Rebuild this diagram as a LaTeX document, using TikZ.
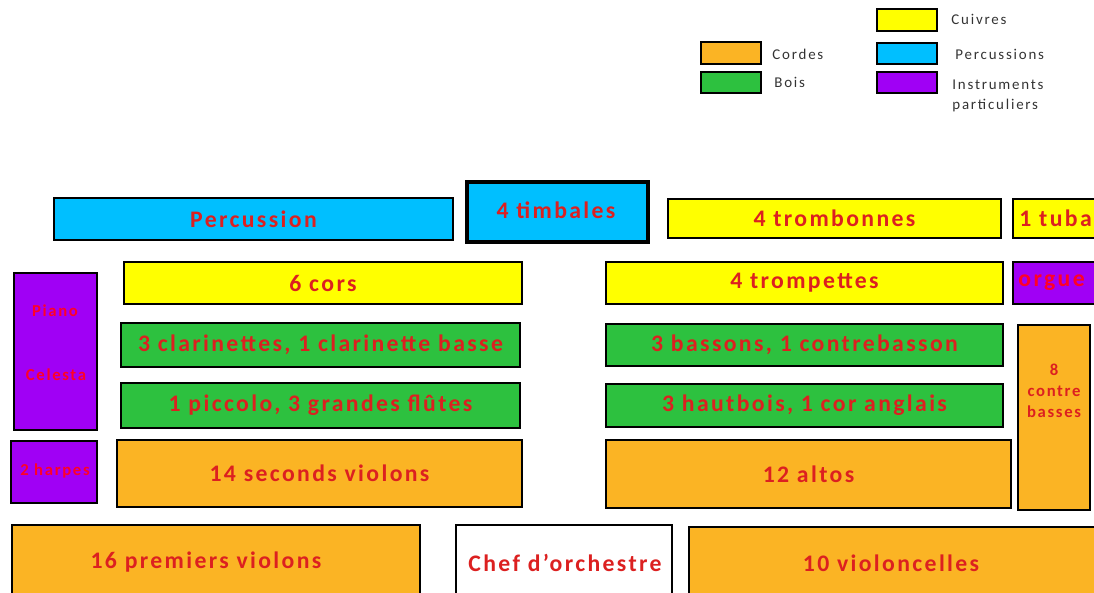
\documentclass[tikz,border=0pt]{standalone}
\usepackage{fontspec}
\setmainfont{Carlito}
\newfontfamily\boxfont[LetterSpace=10]{Carlito}
\newfontfamily\keyfont[LetterSpace=12]{Carlito}
\usepackage{xcolor}
\usepackage{tikz}
\usetikzlibrary{positioning}
\definecolor{cordes}{HTML}{FBB424}
\definecolor{cuivres}{HTML}{FFFF00}
\definecolor{bois}{HTML}{2DC13F}
\definecolor{percu}{HTML}{00BFFF}
\definecolor{partic}{HTML}{A000F5}
\definecolor{lblred}{HTML}{DC2020}
\definecolor{keygray}{HTML}{333333}

\begin{document}
\begin{tikzpicture}[x=0.02cm, y=-0.02cm, line width=1.6pt,
    lbl/.style={text=lblred, inner sep=0pt, font=\boxfont\fontsize{13.5}{15}\bfseries},
    smalllbl/.style={text=lblred, inner sep=0pt, align=center, font=\boxfont\fontsize{9.5}{12}\bfseries},
    key/.style={text=keygray, anchor=west, inner sep=0pt, align=left, font=\keyfont\fontsize{8.5}{11.3}\selectfont}]
    \useasboundingbox (0,0) rectangle (1094,592);
    \clip (0,0) rectangle (1094,592);

    % legende
    \draw[fill=cuivres] (877,9) rectangle (937,31);
    \node[key] (kcuivres) at (950,19) {Cuivres};
    \draw[fill=cordes]  (701,42) rectangle (761,64);
    \node[key] (kcordes) at (771,54) {Cordes};
    \draw[fill=percu]   (877,43) rectangle (937,64);
    \node[key] (kpercu) at (954,54) {Percussions};
    \draw[fill=bois]    (701,72) rectangle (761,93);
    \node[key] (kbois) at (773,82) {Bois};
    \draw[fill=partic]  (877,72) rectangle (937,93);
    \node[key, anchor=north west] (kpartic) at (951,79) {Instruments\\particuliers};

    % fond de scene
    \draw[fill=percu]   (54,198) rectangle (453,240) node[midway, lbl] (percussion) {Percussion};
    \draw[fill=percu, line width=2.2pt] (467,182) rectangle (648,242);
    \node[lbl] (timbales) at (556,210) {4 timbales};
    \draw[fill=cuivres] (668,199) rectangle (1001,238) node[midway, lbl] (trombonnes) {4 trombonnes};
    \draw[fill=cuivres] (1013,199) rectangle (1110,238);
    \node[lbl, anchor=west] (tuba) at (1018,218) {1 tuba};

    % cuivres et bois
    \draw[fill=partic]  (14,273) rectangle (97,430);
    \node[smalllbl, text=red!85!magenta] (piano) at (55,311) {Piano};
    \node[smalllbl, text=red!85!magenta] (celesta) at (56,375) {Celesta};
    \draw[fill=cuivres] (124,262) rectangle (522,304) node[midway, lbl] (cors) {6 cors};
    \draw[fill=cuivres] (606,262) rectangle (1003,304) node[midway, lbl] (trompettes) {4 trompettes};
    \draw[fill=partic]  (1013,262) rectangle (1110,304);
    \node[lbl, text=red!85!magenta, anchor=west] (orgue) at (1017,283) {orgue};
    \draw[fill=bois]    (121,323) rectangle (520,367) node[midway, lbl] (clarinettes) {3 clarinettes, 1 clarinette basse};
    \draw[fill=bois]    (606,324) rectangle (1003,366) node[midway, lbl] (bassons) {3 bassons, 1 contrebasson};
    \draw[fill=cordes]  (1018,325) rectangle (1090,510);
    \node[smalllbl] (contrebasses) at (1054,391) {8\\contre\\basses};
    \draw[fill=bois]    (121,383) rectangle (520,428) node[midway, lbl] (flutes) {1 piccolo, 3 grandes flûtes};
    \draw[fill=bois]    (606,384) rectangle (1003,427) node[midway, lbl] (hautbois) {3 hautbois, 1 cor anglais};

    % cordes
    \draw[fill=partic]  (11,441) rectangle (97,503);
    \node[smalllbl, text=red!85!magenta] (harpes) at (55,471) {2 harpes};
    \draw[fill=cordes]  (117,440) rectangle (522,507) node[midway, lbl] (seconds) {14 seconds violons};
    \draw[fill=cordes]  (606,440) rectangle (1011,508) node[midway, lbl] (altos) {12 altos};
    \draw[fill=cordes]  (12,525) rectangle (420,610);
    \node[lbl] (premiers) at (206,562) {16 premiers violons};
    \draw[fill=white]   (456,525) rectangle (672,610);
    \node[lbl] (chef) at (565,563) {Chef d’orchestre};
    \draw[fill=cordes]  (689,527) rectangle (1110,610);
    \node[lbl] (violoncelles) at (891,563) {10 violoncelles};
\end{tikzpicture}
\end{document}
